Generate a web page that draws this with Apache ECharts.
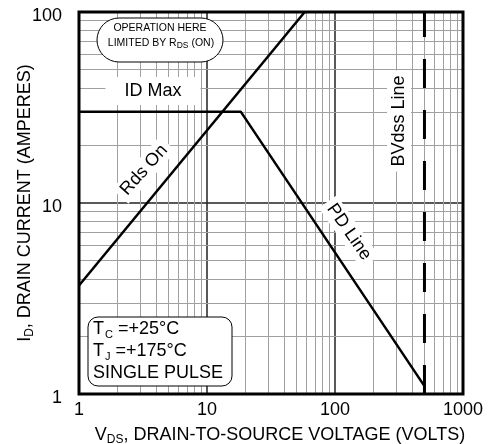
<!DOCTYPE html>
<html>
<head>
<meta charset="utf-8">
<script src="https://cdn.jsdelivr.net/npm/echarts@6/dist/echarts.min.js"></script>
<style>
html, body { margin: 0; padding: 0; background: #fff; }
#chart { width: 499px; height: 444px; }
</style>
</head>
<body>
<div id="chart"></div>
<script>
var FONT = '"Liberation Sans", Arial, Helvetica, sans-serif';

// 网格线位置 (对数坐标的次分隔)
var xMinor = [2, 3, 4, 5, 6, 7, 8, 9, 20, 30, 40, 50, 60, 70, 80, 90, 200, 300, 400, 500, 600, 700, 800, 900];
var yMinor = [2, 3, 4, 5, 6, 7, 8, 9, 20, 30, 40, 50, 60, 70, 80, 90];

// 曲线数据 [V, A]
var idMax = [[1, 30], [18.4, 30]];
var pdLine = [[18.4, 30], [500, 1.1]];
var rdsOn = [[1, 3.7], [58, 100]];
var bvdss = [[500, 1], [500, 100]];

var myChart = echarts.init(document.getElementById('chart'));

var minorLines = [];
xMinor.forEach(function (v) { minorLines.push({ xAxis: v }); });
yMinor.forEach(function (v) { minorLines.push({ yAxis: v }); });

function labelText(txt, x, y, rot, pad) {
	return {
		type: 'text',
		x: x,
		y: y,
		rotation: rot * Math.PI / 180,
		z: 50,
		style: {
			text: txt,
			font: '18px ' + FONT,
			fill: '#000',
			align: 'center',
			verticalAlign: 'middle',
			backgroundColor: '#fff',
			padding: pad
		}
	};
}

var subRich = {
	n: { fontSize: 18, fontFamily: FONT, color: '#000' },
	s: { fontSize: 12, fontFamily: FONT, color: '#000', padding: [10, 0, 0, 0] }
};

var tcRich = {
	n: { fontSize: 18, fontFamily: FONT, color: '#000' },
	s: { fontSize: 11, fontFamily: FONT, color: '#000', padding: [11, 0, 0, 1] }
};

option = {
	animation: false,
	backgroundColor: '#fff',
	grid: {
		left: 79,
		right: 36,
		top: 12,
		bottom: 50,
		outerBoundsMode: 'none'
	},
	xAxis: {
		type: 'log',
		logBase: 10,
		min: 1,
		max: 1000,
		axisLine: { show: false },
		axisTick: { show: false },
		axisLabel: {
			fontSize: 18,
			fontFamily: FONT,
			color: '#000',
			margin: 7,
			formatter: function (v) { return String(Math.round(v)); }
		},
		splitLine: { show: true, lineStyle: { color: '#222', width: 1.5 } },
		name: '{n|V}{s|DS}{n|, DRAIN-TO-SOURCE VOLTAGE (VOLTS)}',
		nameLocation: 'middle',
		nameGap: 30,
		nameMoveOverlap: false,
		nameTextStyle: { rich: subRich, padding: [0, 0, 0, 18] }
	},
	yAxis: {
		type: 'log',
		logBase: 10,
		min: 1,
		max: 100,
		axisLine: { show: false },
		axisTick: { show: false },
		axisLabel: {
			fontSize: 18,
			fontFamily: FONT,
			color: '#000',
			margin: 17,
			verticalAlign: 'top',
			lineHeight: 8,
			formatter: function (v) { return String(Math.round(v)); }
		},
		splitLine: { show: true, lineStyle: { color: '#222', width: 1.5 } },
		name: '{n|I}{s|D}{n|, DRAIN CURRENT (AMPERES)}',
		nameLocation: 'middle',
		nameRotate: 90,
		nameGap: 43,
		nameMoveOverlap: false,
		nameTextStyle: { rich: subRich }
	},
	graphic: [
		// 外框
		{
			type: 'rect',
			z: 100,
			shape: { x: 79, y: 12, width: 384, height: 382 },
			style: { fill: null, stroke: '#000', lineWidth: 3 }
		},
		// OPERATION HERE
		{
			type: 'rect',
			z: 60,
			shape: { x: 97, y: 18, width: 126, height: 44, r: 22 },
			style: { fill: '#fff', stroke: '#000', lineWidth: 1 }
		},
		{
			type: 'text',
			z: 61,
			x: 160,
			y: 28,
			style: {
				text: 'OPERATION HERE',
				font: '10.5px ' + FONT,
				fill: '#000',
				align: 'center',
				verticalAlign: 'middle'
			}
		},
		{
			type: 'text',
			z: 61,
			x: 161,
			y: 43,
			style: {
				text: '{n|LIMITED BY R}{s|DS}{n| (ON)}',
				align: 'center',
				verticalAlign: 'middle',
				rich: {
					n: { fontSize: 10.5, fontFamily: FONT, color: '#000' },
					s: { fontSize: 8.5, fontFamily: FONT, color: '#000', padding: [6, 0, 0, 0] }
				}
			}
		},
		// TC / TJ
		{
			type: 'rect',
			z: 60,
			shape: { x: 88, y: 317, width: 144, height: 69, r: 10 },
			style: { fill: '#fff', stroke: '#000', lineWidth: 1 }
		},
		{
			type: 'text',
			z: 61,
			x: 93,
			y: 329,
			style: { text: '{n|T}{s|C}{n| =+25°C}', align: 'left', verticalAlign: 'middle', rich: tcRich }
		},
		{
			type: 'text',
			z: 61,
			x: 93,
			y: 351,
			style: { text: '{n|T}{s|J}{n| =+175°C}', align: 'left', verticalAlign: 'middle', rich: tcRich }
		},
		{
			type: 'text',
			z: 61,
			x: 93,
			y: 373,
			style: {
				text: 'SINGLE PULSE',
				font: '18px ' + FONT,
				fill: '#000',
				align: 'left',
				verticalAlign: 'middle'
			}
		},
		labelText('ID Max', 153, 91, 0, [5, 19]),
		labelText('Rds On', 144, 170, 48, [2, 5]),
		labelText('PD Line', 349, 232, -55, [2, 5]),
		labelText('BVdss Line', 399, 121, 90, [3, 5])
	],
	series: [
		{
			type: 'line',
			data: [],
			silent: true,
			z: 1,
			markLine: {
				silent: true,
				symbol: 'none',
				label: { show: false },
				lineStyle: { color: '#a0a0a0', width: 1, type: 'solid' },
				data: minorLines
			}
		},
		{
			name: 'ID Max / PD Line',
			type: 'line',
			data: idMax.concat(pdLine.slice(1)),
			symbol: 'none',
			z: 5,
			lineStyle: { color: '#000', width: 2.5 }
		},
		{
			name: 'Rds On',
			type: 'line',
			data: rdsOn,
			symbol: 'none',
			z: 5,
			lineStyle: { color: '#000', width: 2.5 }
		},
		{
			name: 'BVdss Line',
			type: 'line',
			data: bvdss,
			symbol: 'none',
			z: 5,
			lineStyle: { color: '#000', width: 3, type: [29, 22] }
		}
	]
};

myChart.setOption(option);
</script>
</body>
</html>
